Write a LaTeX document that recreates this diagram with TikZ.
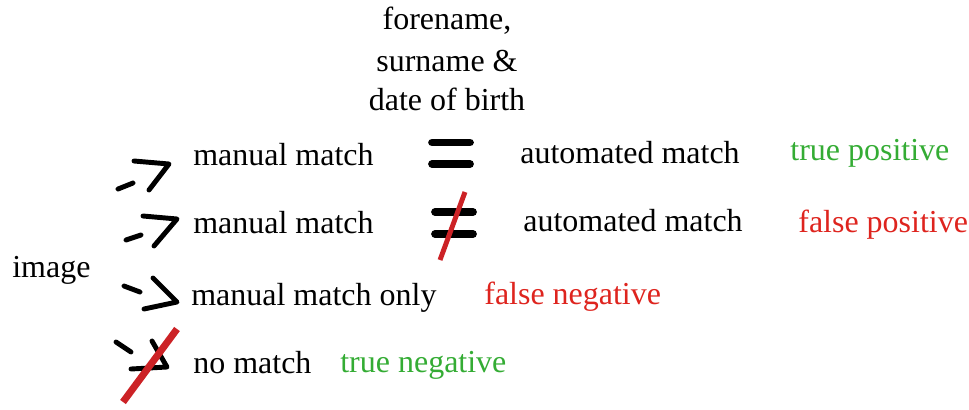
\documentclass[tikz,border=0pt]{standalone}
\usepackage{fontspec}
\setmainfont{Liberation Serif}
\usepackage{tikz}
\usetikzlibrary{positioning}

\definecolor{okgreen}{RGB}{52,172,52}
\definecolor{badred}{RGB}{222,36,30}
\definecolor{slashred}{RGB}{204,34,38}

\begin{document}
\begin{tikzpicture}[
    x=0.02cm, y=-0.02cm, % one unit per pixel, y downwards
    label/.style={anchor=base west, inner sep=0pt, font=\fontsize{18.2}{22}\selectfont},
    stroke/.style={line width=2.8pt, line cap=round, line join=round},
    bar/.style={line width=4.4pt, line cap=round},
    slash/.style={slashred, line width=4pt}
]
    \useasboundingbox (0,0) rectangle (969,409);

    % Header
    \node[inner sep=0pt, anchor=base, font=\fontsize{18.2}{22}\selectfont] (fname) at (447,30) {forename,};
    \node[inner sep=0pt, anchor=base, font=\fontsize{18.2}{22}\selectfont] (sname) at (447,71) {surname \&};
    \node[inner sep=0pt, anchor=base, font=\fontsize{18.2}{22}\selectfont] (dob)   at (447,110) {date of birth};

    % Left label
    \node[label] (image) at (12,277) {image};

    % Row 1: true positive
    \draw[stroke] (118,189) -- (133,183);
    \draw[stroke] (134,161) -- (169,164) -- (149,190);
    \node[label] (man1)  at (193,165) {manual match};
    \draw[bar] (432,142.5) -- (470,142.5);
    \draw[bar] (432,164) -- (470,164);
    \node[label] (auto1) at (520,163) {automated match};
    \node[label, okgreen] (tp) at (790,160) {true positive};

    % Row 2: false positive
    \draw[stroke] (126,240) -- (141,235);
    \draw[stroke] (143,216) -- (177,219) -- (154,246);
    \node[label] (man2)  at (193,233) {manual match};
    \draw[bar] (435,212) -- (473,212);
    \draw[bar] (435,234) -- (473,234);
    \draw[slash, line width=2.8pt] (440,260) -- (465,192);
    \node[label] (auto2) at (523,231) {automated match};
    \node[label, badred] (fp) at (798,232) {false positive};

    % Row 3: false negative
    \draw[stroke] (124,286) -- (140,292);
    \draw[stroke] (153,278) -- (177,302) -- (144,309);
    \node[label] (man3) at (191,305) {manual match only};
    \node[label, badred] (fn) at (484,304) {false negative};

    % Row 4: true negative
    \draw[stroke] (116,342) -- (131,352);
    \draw[stroke] (152,341) -- (167,367) -- (131,369);
    \draw[slash] (177,329) -- (123,402);
    \node[label] (nomatch) at (193,373) {no match};
    \node[label, okgreen] (tn) at (340,372) {true negative};

\end{tikzpicture}
\end{document}
